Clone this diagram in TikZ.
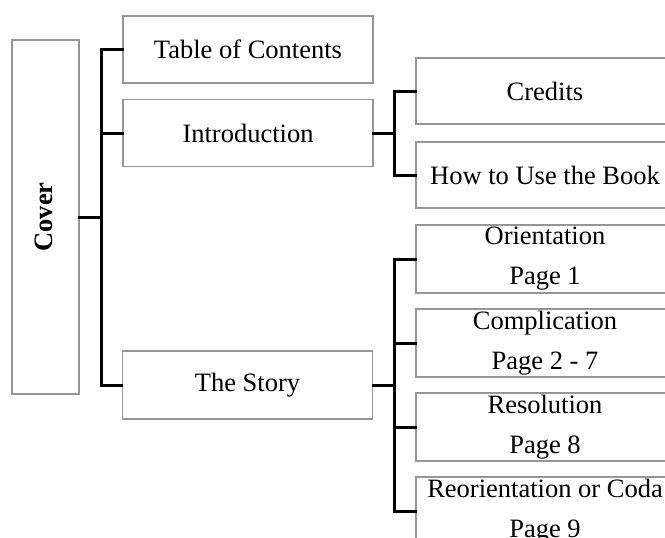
\documentclass[tikz,border=0pt]{standalone}
\usepackage{fontspec}
\setmainfont{Liberation Serif}
\definecolor{boxgray}{RGB}{150,150,150}
\begin{document}
\begin{tikzpicture}[x=1pt,y=-1pt,
  box/.style={draw=boxgray, line width=1.3pt, rectangle, inner sep=0pt, fill=white,
    font=\fontsize{26.5}{40}\selectfont, align=center, text=black},
  lbox/.style={box, minimum width=250pt, minimum height=67pt},
  rbox/.style={box, minimum width=258pt, minimum height=67pt},
  conn/.style={draw=black, line width=3pt, line join=miter, line cap=rect}]
\clip (0,0) rectangle (665,538);
\fill[white] (0,0) rectangle (665,538);
% level 0
\node[box, minimum width=67pt, minimum height=354pt] (cover) at (45.5,217) {};
\node[rotate=90, font=\fontsize{26.5}{32}\selectfont\bfseries, inner sep=0pt] (coverlabel) at (44,217) {Cover};
% level 1
\node[lbox] (toc) at (248,49.5) {Table of Contents};
\node[lbox] (intro) at (248,133) {Introduction};
\node[lbox, minimum height=68pt] (story) at (247.5,385) {The Story};
% level 2
\node[rbox, minimum height=66pt] (credits) at (545,91) {Credits};
\node[rbox, minimum height=66pt] (howto) at (545,175) {How to Use the Book};
\node[rbox, minimum height=68pt] (orient) at (545,259) {Orientation\\Page 1};
\node[rbox, minimum height=68pt] (compl) at (545,343) {Complication\\Page 2 - 7};
\node[rbox, minimum height=68pt] (resol) at (545,427) {Resolution\\Page 8};
\node[rbox, minimum height=68pt] (reor) at (545,511) {Reorientation or Coda\\Page 9};
% buses
\coordinate (busA) at (101,217);
\coordinate (busB) at (394,133);
\coordinate (busC) at (394,385);
\draw[conn] (cover.east) -- (busA);
\draw[conn] (toc.west) -| (busA) |- (story.west);
\draw[conn] (intro.west) -- (intro.west -| busA);
\draw[conn] (intro.east) -- (busB);
\draw[conn] (credits.west) -| (busB) |- (howto.west);
\draw[conn] (story.east) -- (busC);
\draw[conn] (orient.west) -| (busC) |- (reor.west);
\draw[conn] (compl.west) -- (compl.west -| busC);
\draw[conn] (resol.west) -- (resol.west -| busC);
\end{tikzpicture}
\end{document}
